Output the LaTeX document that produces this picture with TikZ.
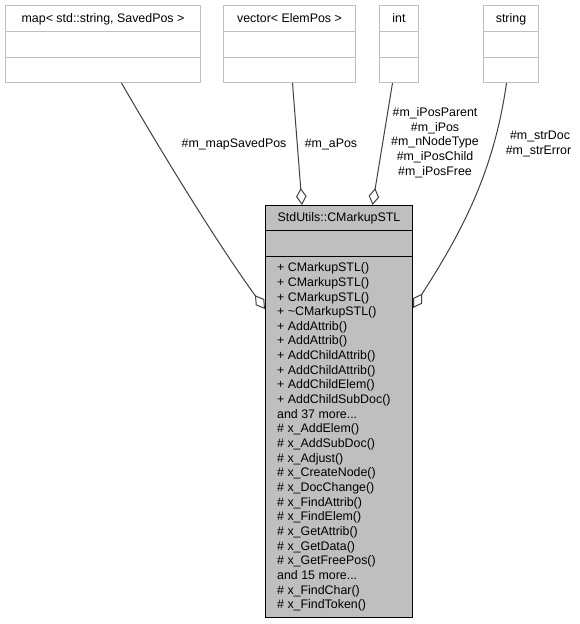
\documentclass[tikz,border=0pt]{standalone}
\usepackage{fontspec}
\setmainfont{Liberation Sans}
\usetikzlibrary{arrows.meta,calc}
\definecolor{gfill}{RGB}{191,191,191}
\definecolor{gline}{RGB}{64,64,64}
\definecolor{tborder}{RGB}{191,191,191}
\newcommand{\mythreedots}{...}
\begin{document}
\begin{tikzpicture}[x=1pt,y=-1pt,
  txt/.style={inner sep=0pt, font=\fontsize{12.4}{14.65}\selectfont},
  topbox/.style={draw=tborder, line width=1pt, fill=white, inner sep=0pt, anchor=north west, minimum height=77pt},
  divider/.style={draw=tborder, line width=1pt},
  mainbox/.style={draw=black, line width=1pt, fill=gfill, inner sep=0pt, anchor=north west, minimum width=147pt},
  conn/.style={draw=gline, line width=1pt, {Diamond[open,length=17pt,width=10.5pt]}-},
]
\fill[white] (0,0) rectangle (580,624);
\useasboundingbox (0,0) rectangle (580,624);

% top boxes
\node[topbox, minimum width=195pt] (map) at (5,5) {};
\node[topbox, minimum width=132pt] (vec) at (223,5) {};
\node[topbox, minimum width=39pt] (int) at (379,5) {};
\node[topbox, minimum width=55pt] (str) at (483,5) {};
\foreach \b in {map,vec,int,str} {
  \draw[divider] ($(\b.north west)+(0,26)$) -- ($(\b.north east)+(0,26)$);
  \draw[divider] ($(\b.north west)+(0,52)$) -- ($(\b.north east)+(0,52)$);
}
\node[txt, anchor=base] (mapt) at ($(map.north)+(0,17.5)$) {map< std::string, SavedPos >};
\node[txt, anchor=base] (vect) at ($(vec.north)+(0,17.5)$) {vector< ElemPos >};
\node[txt, anchor=base] (intt) at ($(int.north)+(0,17.5)$) {int};
\node[txt, anchor=base] (strt) at ($(str.north)+(0,17.5)$) {string};

% main class box
\node[mainbox, minimum height=25pt] (title) at (265,205) {};
\node[mainbox, minimum height=26pt] (attr) at (265,230) {};
\node[mainbox, minimum height=361pt] (ops) at (265,256) {};
\node[txt, anchor=base] (titlet) at ($(title.north)+(0,16.7)$) {StdUtils::CMarkupSTL};
\foreach \t [count=\i, evaluate=\i as \yy using 15.7+14.65*(\i-1)] in {
  + CMarkupSTL(),
  + CMarkupSTL(),
  + CMarkupSTL(),
  + \textasciitilde CMarkupSTL(),
  + AddAttrib(),
  + AddAttrib(),
  + AddChildAttrib(),
  + AddChildAttrib(),
  + AddChildElem(),
  + AddChildSubDoc(),
  and 37 more\mythreedots,
  \# x\_AddElem(),
  \# x\_AddSubDoc(),
  \# x\_Adjust(),
  \# x\_CreateNode(),
  \# x\_DocChange(),
  \# x\_FindAttrib(),
  \# x\_FindElem(),
  \# x\_GetAttrib(),
  \# x\_GetData(),
  \# x\_GetFreePos(),
  and 15 more\mythreedots,
  \# x\_FindChar(),
  \# x\_FindToken()}
  \node[txt, anchor=base west] (op\i) at ($(ops.north west)+(12,\yy)$) {\t};

% connectors
\draw[conn] ($(ops.north west)+(0,53)$) .. controls ($(ops.north west)+(-47.2,-11.8)$) and ($(map.south)+(58.5,69.3)$) .. ($(map.south)+(18.5,0)$);
\draw[conn] ($(title.north west)+(37,0)$) -- ($(vec.south)+(3,0)$);
\draw[conn] ($(title.north west)+(107.5,0)$) -- ($(int.south)+(-6.5,0)$);
\draw[conn] ($(ops.north east)+(0,52)$) .. controls ($(ops.north east)+(48.6,-23.6)$) and ($(str.south)+(-17.1,89.1)$) .. ($(str.south)+(-4.5,0)$);

% labels
\node[txt, anchor=base] (lmap) at (234,147.5) {\#m\_mapSavedPos};
\node[txt, anchor=base] (lapos) at (331,147.5) {\#m\_aPos};
\foreach \t [count=\i, evaluate=\i as \yy using 116.5+14.65*(\i-1)] in
  {\#m\_iPosParent, \#m\_iPos, \#m\_nNodeType, \#m\_iPosChild, \#m\_iPosFree}
  \node[txt, anchor=base] (lint\i) at (435,\yy) {\t};
\node[txt, anchor=base] (lstr1) at (540,139.5) {\#m\_strDoc};
\node[txt, anchor=base] (lstr2) at (538.5,154) {\#m\_strError};
\end{tikzpicture}
\end{document}
